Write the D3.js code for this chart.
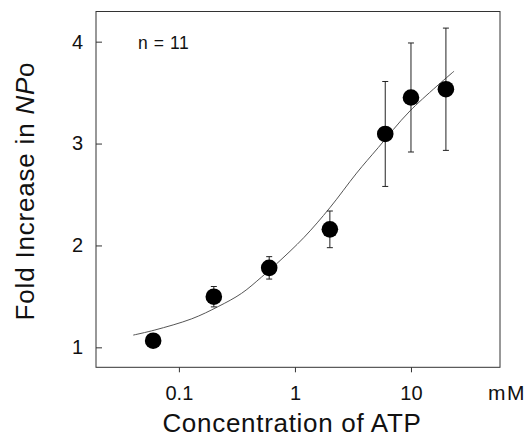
<!DOCTYPE html>
<html>
<head>
<meta charset="utf-8">
<script src="https://cdn.jsdelivr.net/npm/d3@7"></script>
<style>
  body { margin: 0; background: #fff; }
  svg { display: block; }
  text { font-family: "Liberation Sans", Arial, Helvetica, sans-serif; fill: #111; }
</style>
</head>
<body>
<div id="viz"></div>
<script>
// ATP concentration (mM) and mean fold increase in NPo, with error bars
let atp = [0.06, 0.2, 0.6, 2, 6, 10, 20];
let foldIncrease = [1.065, 1.497, 1.78, 2.158, 3.094, 3.452, 3.533];
let errors = [0.04, 0.1, 0.11, 0.18, 0.515, 0.535, 0.6];

// fitted curve
let fitX = [0.0404, 0.0621, 0.129, 0.218, 0.347, 0.516, 0.695, 1.2, 2.0, 3.4, 5.22, 9.8, 23.5];
let fitY = [1.12, 1.17, 1.28, 1.40, 1.53, 1.69, 1.82, 2.08, 2.37, 2.71, 2.96, 3.32, 3.71];

let xTicks = [0.1, 1, 10];
let yTicks = [1, 2, 3, 4];

let dimensions = {
    width: 531,
    height: 443,
    margins: {top: 11.5, right: 31, bottom: 75.7, left: 96}
};
dimensions.boundedWidth = dimensions.width - dimensions.margins.left - dimensions.margins.right;
dimensions.boundedHeight = dimensions.height - dimensions.margins.top - dimensions.margins.bottom;

const svg = d3.select('#viz').append('svg')
    .attr('width', dimensions.width)
    .attr('height', dimensions.height);

const bounds = svg.append('g')
    .attr('transform', `translate(${dimensions.margins.left},${dimensions.margins.top})`);

// scales
const xScale = d3.scaleLog()
    .domain([0.0193, 58.5])
    .range([0, dimensions.boundedWidth]);

const yScale = d3.scaleLinear()
    .domain([0.804, 4.296])
    .range([dimensions.boundedHeight, 0]);

// frame
bounds.append('rect')
    .attr('width', dimensions.boundedWidth)
    .attr('height', dimensions.boundedHeight)
    .attr('fill', 'none')
    .attr('stroke', '#333')
    .attr('stroke-width', 1);

// axes
const yAxis = bounds.append('g')
    .call(d3.axisLeft(yScale).tickValues(yTicks).tickSize(-6).tickPadding(13).tickFormat(d3.format('d')));
yAxis.select('.domain').remove();
yAxis.selectAll('line').attr('stroke', '#333');
yAxis.selectAll('text').style('font-size', '20px').attr('fill', '#111');

const xAxis = bounds.append('g')
    .attr('transform', `translate(0,${dimensions.boundedHeight})`)
    .call(d3.axisBottom(xScale).tickValues(xTicks).tickSize(5).tickPadding(14).tickFormat(d => d));
xAxis.select('.domain').remove();
xAxis.selectAll('line').attr('stroke', '#333');
xAxis.selectAll('text').style('font-size', '20px').attr('fill', '#111');

bounds.append('text')
    .attr('x', 392)
    .attr('y', 388.5)
    .style('font-size', '21px')
    .style('letter-spacing', '1.5px')
    .text('mM');

// axis titles
svg.append('text')
    .attr('x', 292)
    .attr('y', 431.5)
    .attr('text-anchor', 'middle')
    .style('font-size', '26px')
    .style('letter-spacing', '0.7px')
    .text('Concentration of ATP');

const yTitle = svg.append('text')
    .attr('transform', 'translate(34,191) rotate(-90)')
    .attr('text-anchor', 'middle')
    .style('font-size', '26px')
    .style('letter-spacing', '0.8px');
yTitle.append('tspan').text('Fold Increase in ');
yTitle.append('tspan').style('font-style', 'italic').text('NP');
yTitle.append('tspan').text('o');

bounds.append('text')
    .attr('x', 42)
    .attr('y', 37.8)
    .style('font-size', '17.5px')
    .style('letter-spacing', '0.6px')
    .attr('xml:space', 'preserve')
    .text('n = 11');

// fitted curve
const fitLine = d3.line()
    .x((d, i) => xScale(fitX[i]))
    .y(d => yScale(d))
    .curve(d3.curveCatmullRom);

bounds.append('path')
    .datum(fitY)
    .attr('d', fitLine)
    .attr('fill', 'none')
    .attr('stroke', '#555')
    .attr('stroke-width', 1);

// error bars
const points = atp.map((x, i) => ({x: x, y: foldIncrease[i], e: errors[i]}));

const bars = bounds.append('g').attr('stroke', '#222').attr('stroke-width', 1);
bars.selectAll('line.v')
    .data(points)
    .join('line')
        .attr('class', 'v')
        .attr('x1', d => xScale(d.x))
        .attr('x2', d => xScale(d.x))
        .attr('y1', d => yScale(d.y + d.e))
        .attr('y2', d => yScale(d.y - d.e));

bars.selectAll('line.top')
    .data(points)
    .join('line')
        .attr('class', 'top')
        .attr('x1', d => xScale(d.x) - 3)
        .attr('x2', d => xScale(d.x) + 3)
        .attr('y1', d => yScale(d.y + d.e))
        .attr('y2', d => yScale(d.y + d.e));

bars.selectAll('line.bottom')
    .data(points)
    .join('line')
        .attr('class', 'bottom')
        .attr('x1', d => xScale(d.x) - 3)
        .attr('x2', d => xScale(d.x) + 3)
        .attr('y1', d => yScale(d.y - d.e))
        .attr('y2', d => yScale(d.y - d.e));

// markers
bounds.append('g')
    .selectAll('circle')
    .data(points)
    .join('circle')
        .attr('cx', d => xScale(d.x))
        .attr('cy', d => yScale(d.y))
        .attr('r', 8.3)
        .attr('fill', '#000');
</script>
</body>
</html>
